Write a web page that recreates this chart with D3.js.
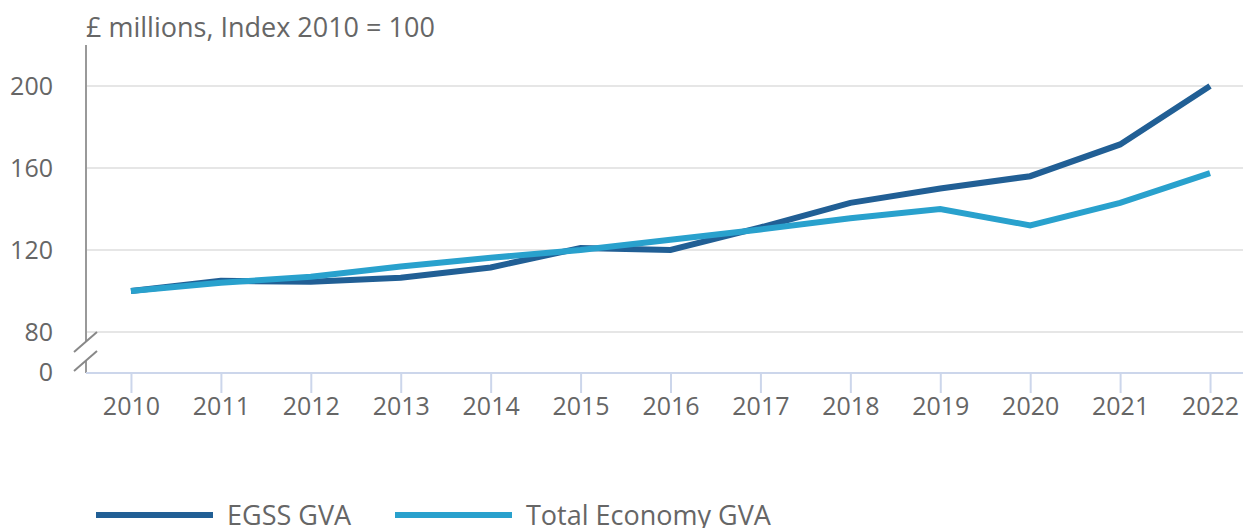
<!DOCTYPE html>
<html>
<head>
<meta charset="utf-8">
<script src="https://cdn.jsdelivr.net/npm/d3@7"></script>
<style>
  body { margin: 0; background: #fff; }
  svg text { font-family: "Open Sans", sans-serif; fill: #666; }
</style>
</head>
<body>
<svg id="chart" width="1243" height="528"></svg>
<script>
const years = [2010, 2011, 2012, 2013, 2014, 2015, 2016, 2017, 2018, 2019, 2020, 2021, 2022]
const egss = [100, 105, 104.5, 106.5, 111.5, 121, 120, 131, 143, 150, 156, 171.5, 200]
const totalEconomy = [100, 104, 107, 112, 116.2, 120, 125, 130, 135.5, 140, 132, 143, 157.5]
const yTicks = [80, 120, 160, 200]
const seriesNames = ["EGSS GVA", "Total Economy GVA"]
const colors = ["#215f95", "#29a1cd"]

const svg = d3.select("#chart")
const left = 86, right = 1243
const baseY = 373

// x: one band step per year, point in the middle (plot runs a bit past the window)
const x = d3.scalePoint()
  .domain(years)
  .range([left, 1255])
  .padding(0.5)

// y: broken axis, 80..200 shown above the break, 0 sits on the baseline
const y = d3.scaleLinear()
  .domain([80, 200])
  .range([332, 86])

// gridlines
svg.append("g")
  .selectAll("line")
  .data(yTicks)
  .join("line")
  .attr("x1", left).attr("x2", right)
  .attr("y1", d => y(d)).attr("y2", d => y(d))
  .attr("stroke", "#e6e6e6")
  .attr("stroke-width", 2)

// y axis labels
const yAxis = svg.append("g")
  .attr("transform", `translate(${left},0)`)
  .call(d3.axisLeft(y).tickValues(yTicks).tickSize(0).tickPadding(33))
yAxis.select(".domain").remove()
yAxis.selectAll("text").style("font-size", "25px").attr("fill", "#666")

svg.append("text")
  .attr("x", left - 33).attr("y", baseY)
  .attr("dy", "0.32em")
  .attr("text-anchor", "end")
  .style("font-size", "25px")
  .text("0")

// y axis line with break
svg.append("line")
  .attr("x1", left).attr("x2", left)
  .attr("y1", 45).attr("y2", 341)
  .attr("stroke", "#999").attr("stroke-width", 2)
svg.append("line")
  .attr("x1", left).attr("x2", left)
  .attr("y1", 361).attr("y2", baseY)
  .attr("stroke", "#999").attr("stroke-width", 2)
svg.append("g")
  .selectAll("line")
  .data([0, 19])
  .join("line")
  .attr("x1", 74).attr("y1", d => 352 + d)
  .attr("x2", 97).attr("y2", d => 332 + d)
  .attr("stroke", "#888").attr("stroke-width", 2)

// x axis
const xAxis = svg.append("g")
  .attr("transform", `translate(0,${baseY})`)
  .call(d3.axisBottom(x).tickSize(20).tickPadding(4).tickSizeOuter(0))
xAxis.select(".domain").attr("stroke", "#ccd6eb").attr("stroke-width", 2)
  .attr("d", `M${left},0H${right}`)
xAxis.selectAll(".tick line").attr("stroke", "#ccd6eb").attr("stroke-width", 2)
xAxis.selectAll("text").style("font-size", "25px").attr("fill", "#666")

// title
svg.append("text")
  .attr("x", 86).attr("y", 37)
  .style("font-size", "27px")
  .text("£ millions, Index 2010 = 100")

// lines
const line = d3.line()
  .x((d, i) => x(years[i]))
  .y(d => y(d))

const series = [egss, totalEconomy]
svg.append("g")
  .selectAll("path")
  .data(series)
  .join("path")
  .attr("d", d => line(d))
  .attr("fill", "none")
  .attr("stroke", (d, i) => colors[i])
  .attr("stroke-width", 6)
  .attr("stroke-linejoin", "miter")

// legend (cut off at the bottom edge, as in the original)
const legendX = [96, 395]
const legend = svg.append("g")
  .selectAll("g")
  .data(seriesNames)
  .join("g")
  .attr("transform", (d, i) => `translate(${legendX[i]},515)`)
legend.append("line")
  .attr("x1", 0).attr("x2", 117)
  .attr("stroke", (d, i) => colors[i])
  .attr("stroke-width", 6)
legend.append("text")
  .attr("x", 131).attr("dy", "0.38em")
  .style("font-size", "27px")
  .text(d => d)
</script>
</body>
</html>
